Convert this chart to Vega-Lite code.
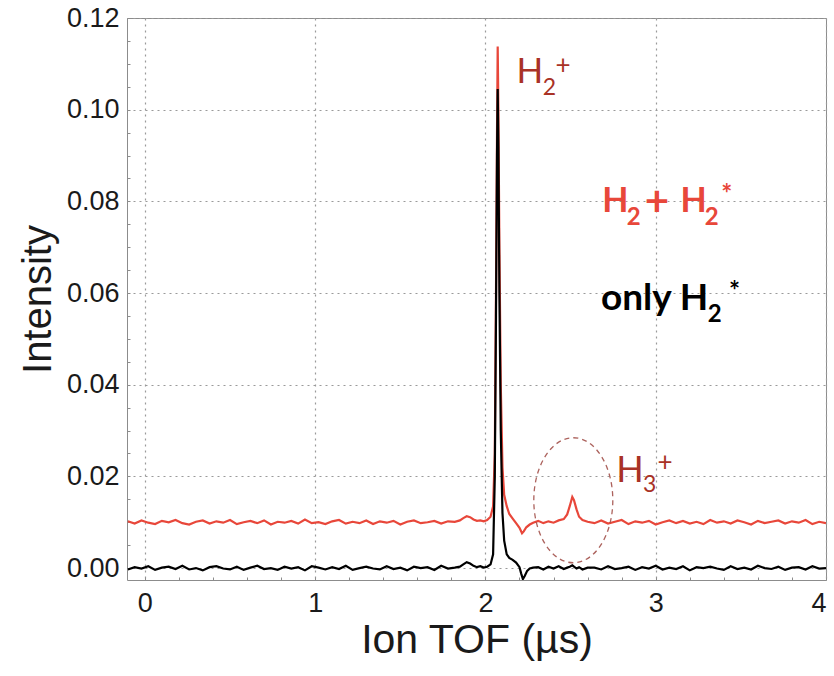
{
  "$schema": "https://vega.github.io/schema/vega-lite/v6.json",
  "width": 699,
  "height": 562,
  "autosize": {"type": "none"},
  "padding": {"left": 127, "top": 18, "right": 8, "bottom": 96},
  "background": "white",
  "config": {
    "view": {"stroke": "#8c8c8c", "strokeWidth": 1},
    "axis": {
      "labelFont": "Liberation Sans", "labelFontSize": 27, "labelColor": "#1a1a1a",
      "titleFont": "Liberation Sans", "titleFontWeight": "normal", "titleColor": "#1a1a1a",
      "domain": false, "ticks": false,
      "grid": true, "gridColor": "#9a9a9a", "gridDash": [2, 4], "gridWidth": 1.2
    }
  },
  "resolve": {"axis": {"x": "independent", "y": "independent"}},
  "datasets": {
    "red": [
      {"t": -0.1, "v": 0.0102}, {"t": -0.06, "v": 0.0097}, {"t": -0.02, "v": 0.0104}, {"t": 0.02, "v": 0.0099},
      {"t": 0.06, "v": 0.0096}, {"t": 0.1, "v": 0.0103}, {"t": 0.14, "v": 0.0100}, {"t": 0.18, "v": 0.0105},
      {"t": 0.22, "v": 0.0098}, {"t": 0.26, "v": 0.0095}, {"t": 0.3, "v": 0.0101}, {"t": 0.34, "v": 0.0104},
      {"t": 0.38, "v": 0.0097}, {"t": 0.42, "v": 0.0102}, {"t": 0.46, "v": 0.0099}, {"t": 0.5, "v": 0.0105},
      {"t": 0.54, "v": 0.0096}, {"t": 0.58, "v": 0.0100}, {"t": 0.62, "v": 0.0103}, {"t": 0.66, "v": 0.0098},
      {"t": 0.7, "v": 0.0104}, {"t": 0.74, "v": 0.0095}, {"t": 0.78, "v": 0.0101}, {"t": 0.82, "v": 0.0099},
      {"t": 0.86, "v": 0.0103}, {"t": 0.9, "v": 0.0097}, {"t": 0.94, "v": 0.0106}, {"t": 0.98, "v": 0.0098},
      {"t": 1.02, "v": 0.0100}, {"t": 1.06, "v": 0.0096}, {"t": 1.1, "v": 0.0102}, {"t": 1.14, "v": 0.0105},
      {"t": 1.18, "v": 0.0097}, {"t": 1.22, "v": 0.0101}, {"t": 1.26, "v": 0.0098}, {"t": 1.3, "v": 0.0104},
      {"t": 1.34, "v": 0.0096}, {"t": 1.38, "v": 0.0102}, {"t": 1.42, "v": 0.0099}, {"t": 1.46, "v": 0.0103},
      {"t": 1.5, "v": 0.0095}, {"t": 1.54, "v": 0.0101}, {"t": 1.58, "v": 0.0104}, {"t": 1.62, "v": 0.0098},
      {"t": 1.66, "v": 0.0100}, {"t": 1.7, "v": 0.0103}, {"t": 1.74, "v": 0.0097}, {"t": 1.78, "v": 0.0102},
      {"t": 1.82, "v": 0.0101}, {"t": 1.85, "v": 0.0104}, {"t": 1.87, "v": 0.0109}, {"t": 1.89, "v": 0.0113},
      {"t": 1.91, "v": 0.0111}, {"t": 1.93, "v": 0.0106}, {"t": 1.95, "v": 0.0103}, {"t": 1.97, "v": 0.0104},
      {"t": 1.99, "v": 0.0102}, {"t": 2.01, "v": 0.0105}, {"t": 2.03, "v": 0.0112}, {"t": 2.045, "v": 0.0135},
      {"t": 2.055, "v": 0.025}, {"t": 2.062, "v": 0.06}, {"t": 2.068, "v": 0.095}, {"t": 2.072, "v": 0.1138},
      {"t": 2.076, "v": 0.1}, {"t": 2.082, "v": 0.07}, {"t": 2.09, "v": 0.04}, {"t": 2.1, "v": 0.022},
      {"t": 2.11, "v": 0.016}, {"t": 2.125, "v": 0.0135}, {"t": 2.14, "v": 0.0118}, {"t": 2.16, "v": 0.0108},
      {"t": 2.18, "v": 0.0098}, {"t": 2.2, "v": 0.0088}, {"t": 2.215, "v": 0.0076}, {"t": 2.225, "v": 0.0080},
      {"t": 2.24, "v": 0.0089}, {"t": 2.26, "v": 0.0095}, {"t": 2.28, "v": 0.0099}, {"t": 2.31, "v": 0.0103},
      {"t": 2.34, "v": 0.0098}, {"t": 2.37, "v": 0.0102}, {"t": 2.4, "v": 0.0099}, {"t": 2.43, "v": 0.0104},
      {"t": 2.46, "v": 0.0107}, {"t": 2.48, "v": 0.0117}, {"t": 2.495, "v": 0.0135}, {"t": 2.51, "v": 0.0155},
      {"t": 2.52, "v": 0.0148}, {"t": 2.535, "v": 0.0128}, {"t": 2.55, "v": 0.0112}, {"t": 2.57, "v": 0.0105},
      {"t": 2.6, "v": 0.0101}, {"t": 2.64, "v": 0.0098}, {"t": 2.68, "v": 0.0104}, {"t": 2.72, "v": 0.0097},
      {"t": 2.76, "v": 0.0101}, {"t": 2.8, "v": 0.0105}, {"t": 2.84, "v": 0.0096}, {"t": 2.88, "v": 0.0102},
      {"t": 2.92, "v": 0.0099}, {"t": 2.96, "v": 0.0103}, {"t": 3.0, "v": 0.0095}, {"t": 3.04, "v": 0.0100},
      {"t": 3.08, "v": 0.0104}, {"t": 3.12, "v": 0.0098}, {"t": 3.16, "v": 0.0103}, {"t": 3.2, "v": 0.0097},
      {"t": 3.24, "v": 0.0101}, {"t": 3.28, "v": 0.0096}, {"t": 3.32, "v": 0.0105}, {"t": 3.36, "v": 0.0099},
      {"t": 3.4, "v": 0.0102}, {"t": 3.44, "v": 0.0097}, {"t": 3.48, "v": 0.0104}, {"t": 3.52, "v": 0.0100},
      {"t": 3.56, "v": 0.0095}, {"t": 3.6, "v": 0.0103}, {"t": 3.64, "v": 0.0098}, {"t": 3.68, "v": 0.0101},
      {"t": 3.72, "v": 0.0104}, {"t": 3.76, "v": 0.0097}, {"t": 3.8, "v": 0.0102}, {"t": 3.84, "v": 0.0099},
      {"t": 3.88, "v": 0.0105}, {"t": 3.92, "v": 0.0096}, {"t": 3.96, "v": 0.0101}, {"t": 4.0, "v": 0.0098}
    ],
    "black": [
      {"t": -0.1, "v": -0.0003}, {"t": -0.06, "v": 0.0002}, {"t": -0.02, "v": -0.0001}, {"t": 0.02, "v": 0.0004},
      {"t": 0.06, "v": -0.0004}, {"t": 0.1, "v": 0.0001}, {"t": 0.14, "v": 0.0003}, {"t": 0.18, "v": -0.0002},
      {"t": 0.22, "v": 0.0005}, {"t": 0.26, "v": -0.0003}, {"t": 0.3, "v": 0.0000}, {"t": 0.34, "v": -0.0005},
      {"t": 0.38, "v": 0.0002}, {"t": 0.42, "v": 0.0004}, {"t": 0.46, "v": -0.0001}, {"t": 0.5, "v": -0.0003},
      {"t": 0.54, "v": 0.0003}, {"t": 0.58, "v": -0.0004}, {"t": 0.62, "v": 0.0001}, {"t": 0.66, "v": 0.0005},
      {"t": 0.7, "v": -0.0002}, {"t": 0.74, "v": 0.0000}, {"t": 0.78, "v": -0.0004}, {"t": 0.82, "v": 0.0003},
      {"t": 0.86, "v": -0.0001}, {"t": 0.9, "v": 0.0002}, {"t": 0.94, "v": -0.0005}, {"t": 0.98, "v": 0.0004},
      {"t": 1.02, "v": 0.0001}, {"t": 1.06, "v": -0.0003}, {"t": 1.1, "v": 0.0002}, {"t": 1.14, "v": -0.0002},
      {"t": 1.18, "v": 0.0005}, {"t": 1.22, "v": -0.0004}, {"t": 1.26, "v": 0.0000}, {"t": 1.3, "v": 0.0003},
      {"t": 1.34, "v": -0.0001}, {"t": 1.38, "v": -0.0003}, {"t": 1.42, "v": 0.0004}, {"t": 1.46, "v": -0.0002},
      {"t": 1.5, "v": 0.0001}, {"t": 1.54, "v": -0.0005}, {"t": 1.58, "v": 0.0003}, {"t": 1.62, "v": 0.0000},
      {"t": 1.66, "v": 0.0002}, {"t": 1.7, "v": -0.0004}, {"t": 1.74, "v": 0.0005}, {"t": 1.78, "v": -0.0001},
      {"t": 1.82, "v": 0.0001}, {"t": 1.85, "v": 0.0003}, {"t": 1.87, "v": 0.0008}, {"t": 1.89, "v": 0.0013},
      {"t": 1.91, "v": 0.0010}, {"t": 1.93, "v": 0.0005}, {"t": 1.95, "v": 0.0002}, {"t": 1.97, "v": 0.0004},
      {"t": 1.99, "v": 0.0001}, {"t": 2.01, "v": 0.0003}, {"t": 2.03, "v": 0.0008}, {"t": 2.045, "v": 0.003},
      {"t": 2.055, "v": 0.02}, {"t": 2.062, "v": 0.055}, {"t": 2.068, "v": 0.09}, {"t": 2.072, "v": 0.1045},
      {"t": 2.076, "v": 0.092}, {"t": 2.082, "v": 0.06}, {"t": 2.09, "v": 0.03}, {"t": 2.1, "v": 0.012},
      {"t": 2.11, "v": 0.006}, {"t": 2.125, "v": 0.003}, {"t": 2.14, "v": 0.0022}, {"t": 2.16, "v": 0.0018},
      {"t": 2.18, "v": 0.0012}, {"t": 2.2, "v": 0.0002}, {"t": 2.21, "v": -0.0012}, {"t": 2.22, "v": -0.0024},
      {"t": 2.23, "v": -0.0018}, {"t": 2.245, "v": -0.0006}, {"t": 2.26, "v": -0.0001}, {"t": 2.28, "v": 0.0001},
      {"t": 2.31, "v": 0.0002}, {"t": 2.34, "v": -0.0003}, {"t": 2.37, "v": 0.0003}, {"t": 2.4, "v": -0.0001},
      {"t": 2.43, "v": 0.0004}, {"t": 2.46, "v": -0.0002}, {"t": 2.48, "v": 0.0001}, {"t": 2.495, "v": 0.0003},
      {"t": 2.51, "v": 0.0006}, {"t": 2.52, "v": 0.0003}, {"t": 2.535, "v": -0.0001}, {"t": 2.55, "v": 0.0002},
      {"t": 2.57, "v": -0.0003}, {"t": 2.6, "v": 0.0001}, {"t": 2.64, "v": 0.0001}, {"t": 2.68, "v": -0.0003},
      {"t": 2.72, "v": 0.0004}, {"t": 2.76, "v": -0.0002}, {"t": 2.8, "v": 0.0000}, {"t": 2.84, "v": 0.0003},
      {"t": 2.88, "v": -0.0004}, {"t": 2.92, "v": 0.0002}, {"t": 2.96, "v": -0.0001}, {"t": 3.0, "v": 0.0005},
      {"t": 3.04, "v": -0.0003}, {"t": 3.08, "v": 0.0001}, {"t": 3.12, "v": -0.0002}, {"t": 3.16, "v": 0.0004},
      {"t": 3.2, "v": -0.0005}, {"t": 3.24, "v": 0.0002}, {"t": 3.28, "v": 0.0000}, {"t": 3.32, "v": 0.0003},
      {"t": 3.36, "v": -0.0001}, {"t": 3.4, "v": -0.0004}, {"t": 3.44, "v": 0.0004}, {"t": 3.48, "v": -0.0002},
      {"t": 3.52, "v": 0.0001}, {"t": 3.56, "v": -0.0003}, {"t": 3.6, "v": 0.0005}, {"t": 3.64, "v": 0.0000},
      {"t": 3.68, "v": -0.0002}, {"t": 3.72, "v": 0.0003}, {"t": 3.76, "v": -0.0004}, {"t": 3.8, "v": 0.0001},
      {"t": 3.84, "v": 0.0002}, {"t": 3.88, "v": -0.0003}, {"t": 3.92, "v": 0.0004}, {"t": 3.96, "v": -0.0001},
      {"t": 4.0, "v": 0.0000}
    ],
    "one": [{}]
  },
  "layer": [
    {
      "data": {"name": "red"},
      "mark": {"type": "line", "color": "#e8473a", "strokeWidth": 2.2, "clip": true},
      "encoding": {
        "x": {"field": "t", "type": "quantitative", "scale": {"domain": [-0.105, 4], "nice": false, "zero": false},
              "axis": {"orient": "bottom", "values": [0, 1, 2, 3, 4], "format": "d", "title": "Ion TOF (µs)", "titleFontSize": 41, "labelPadding": 10, "titlePadding": 4}},
        "y": {"field": "v", "type": "quantitative", "scale": {"domain": [-0.0026, 0.12], "nice": false, "zero": false},
              "axis": {"orient": "left", "values": [0, 0.02, 0.04, 0.06, 0.08, 0.1, 0.12], "format": ".2f", "title": "Intensity", "titleFontSize": 40, "labelPadding": 8, "titlePadding": 8}}
      }
    },
    {
      "data": {"name": "black"},
      "mark": {"type": "line", "color": "#000000", "strokeWidth": 2.2, "clip": true},
      "encoding": {
        "x": {"field": "t", "type": "quantitative",
              "axis": {"orient": "bottom", "values": [0, 0.2, 0.4, 0.6, 0.8, 1, 1.2, 1.4, 1.6, 1.8, 2, 2.2, 2.4, 2.6, 2.8, 3, 3.2, 3.4, 3.6, 3.8, 4],
                       "labels": false, "grid": false, "title": null, "ticks": true, "tickSize": -3, "tickColor": "#8c8c8c", "tickWidth": 1}},
        "y": {"field": "v", "type": "quantitative",
              "axis": {"orient": "left", "values": [0, 0.005, 0.01, 0.015, 0.02, 0.025, 0.03, 0.035, 0.04, 0.045, 0.05, 0.055, 0.06, 0.065, 0.07, 0.075, 0.08, 0.085, 0.09, 0.095, 0.1, 0.105, 0.11, 0.115, 0.12],
                       "labels": false, "grid": false, "title": null, "ticks": true, "tickSize": -3, "tickColor": "#8c8c8c", "tickWidth": 1}}
      }
    },
    {
      "data": {"name": "one"},
      "mark": {"type": "point", "shape": "M 0 -1 C 0.349 -1 0.632 -0.552 0.632 0 C 0.632 0.552 0.349 1 0 1 C -0.349 1 -0.632 0.552 -0.632 0 C -0.632 -0.552 -0.349 -1 0 -1 Z",
               "size": 15625, "filled": false, "stroke": "#a4524c", "strokeWidth": 1.3, "strokeDash": [5, 4], "opacity": 0.9},
      "encoding": {"x": {"datum": 2.516, "axis": null}, "y": {"datum": 0.0148, "axis": null}}
    },
    {"data": {"name": "one"}, "mark": {"type": "text", "text": "H", "align": "left", "baseline": "alphabetic", "font": "Lato", "fontWeight": "normal", "fontSize": 35, "color": "#a93226"},
     "encoding": {"x": {"datum": 2.182, "axis": null}, "y": {"datum": 0.1058, "axis": null}}},
    {"data": {"name": "one"}, "mark": {"type": "text", "text": "2", "align": "left", "baseline": "alphabetic", "font": "Lato", "fontWeight": "normal", "fontSize": 23, "color": "#a93226"},
     "encoding": {"x": {"datum": 2.336, "axis": null}, "y": {"datum": 0.1032, "axis": null}}},
    {"data": {"name": "one"}, "mark": {"type": "text", "text": "+", "align": "left", "baseline": "alphabetic", "font": "Lato", "fontWeight": "normal", "fontSize": 26, "color": "#a93226"},
     "encoding": {"x": {"datum": 2.412, "axis": null}, "y": {"datum": 0.1078, "axis": null}}},

    {"data": {"name": "one"}, "mark": {"type": "text", "text": "H", "align": "left", "baseline": "alphabetic", "font": "Lato", "fontWeight": "bold", "fontSize": 34, "color": "#e8473a"},
     "encoding": {"x": {"datum": 2.686, "axis": null}, "y": {"datum": 0.0777, "axis": null}}},
    {"data": {"name": "one"}, "mark": {"type": "text", "text": "2", "align": "left", "baseline": "alphabetic", "font": "Lato", "fontWeight": "bold", "fontSize": 24, "color": "#e8473a"},
     "encoding": {"x": {"datum": 2.83, "axis": null}, "y": {"datum": 0.0749, "axis": null}}},
    {"data": {"name": "one"}, "mark": {"type": "text", "text": "+", "align": "left", "baseline": "alphabetic", "font": "Lato", "fontWeight": "bold", "fontSize": 42, "color": "#e8473a"},
     "encoding": {"x": {"datum": 2.935, "axis": null}, "y": {"datum": 0.0768, "axis": null}}},
    {"data": {"name": "one"}, "mark": {"type": "text", "text": "H", "align": "left", "baseline": "alphabetic", "font": "Lato", "fontWeight": "bold", "fontSize": 34, "color": "#e8473a"},
     "encoding": {"x": {"datum": 3.145, "axis": null}, "y": {"datum": 0.0777, "axis": null}}},
    {"data": {"name": "one"}, "mark": {"type": "text", "text": "2", "align": "left", "baseline": "alphabetic", "font": "Lato", "fontWeight": "bold", "fontSize": 24, "color": "#e8473a"},
     "encoding": {"x": {"datum": 3.288, "axis": null}, "y": {"datum": 0.0749, "axis": null}}},
    {"data": {"name": "one"}, "mark": {"type": "text", "text": "*", "align": "left", "baseline": "alphabetic", "font": "Lato", "fontWeight": "bold", "fontSize": 26, "color": "#e8473a"},
     "encoding": {"x": {"datum": 3.385, "axis": null}, "y": {"datum": 0.0797, "axis": null}}},

    {"data": {"name": "one"}, "mark": {"type": "text", "text": "only H", "align": "left", "baseline": "alphabetic", "font": "Lato", "fontWeight": "bold", "fontSize": 37, "color": "#000000"},
     "encoding": {"x": {"datum": 2.678, "axis": null}, "y": {"datum": 0.0563, "axis": null}}},
    {"data": {"name": "one"}, "mark": {"type": "text", "text": "2", "align": "left", "baseline": "alphabetic", "font": "Lato", "fontWeight": "bold", "fontSize": 24, "color": "#000000"},
     "encoding": {"x": {"datum": 3.305, "axis": null}, "y": {"datum": 0.0537, "axis": null}}},
    {"data": {"name": "one"}, "mark": {"type": "text", "text": "*", "align": "left", "baseline": "alphabetic", "font": "Lato", "fontWeight": "bold", "fontSize": 26, "color": "#000000"},
     "encoding": {"x": {"datum": 3.43, "axis": null}, "y": {"datum": 0.0585, "axis": null}}},

    {"data": {"name": "one"}, "mark": {"type": "text", "text": "H", "align": "left", "baseline": "alphabetic", "font": "Lato", "fontWeight": "normal", "fontSize": 36, "color": "#a93226"},
     "encoding": {"x": {"datum": 2.768, "axis": null}, "y": {"datum": 0.0188, "axis": null}}},
    {"data": {"name": "one"}, "mark": {"type": "text", "text": "3", "align": "left", "baseline": "alphabetic", "font": "Lato", "fontWeight": "normal", "fontSize": 23, "color": "#a93226"},
     "encoding": {"x": {"datum": 2.925, "axis": null}, "y": {"datum": 0.0166, "axis": null}}},
    {"data": {"name": "one"}, "mark": {"type": "text", "text": "+", "align": "left", "baseline": "alphabetic", "font": "Lato", "fontWeight": "normal", "fontSize": 26, "color": "#a93226"},
     "encoding": {"x": {"datum": 3.01, "axis": null}, "y": {"datum": 0.0212, "axis": null}}}
  ]
}
